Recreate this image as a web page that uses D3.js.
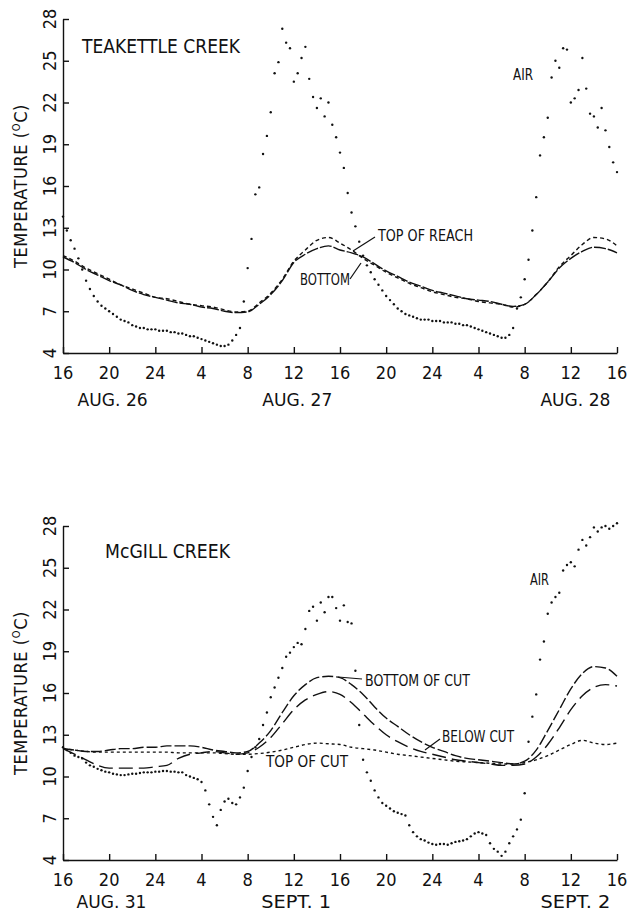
<!DOCTYPE html>
<html><head><meta charset="utf-8">
<script src="https://cdn.jsdelivr.net/npm/d3@7"></script>
<style>
body{margin:0;background:#fff}
text{font-family:"Liberation Sans Narrow","DejaVu Sans Condensed","Arial Narrow",sans-serif;fill:#111}
</style>
</head><body>
<svg id="c" width="630" height="915"></svg>
<script>
// ---------- DATA ----------
const hourTicks = [0,4,8,12,16,20,24,28,32,36,40,44,48];
const hourLabels = ["16","20","24","4","8","12","16","20","24","4","8","12","16"];
const tempTicks = [4,7,10,13,16,19,22,25,28];
const teakettleDates = [["AUG. 26",4.3],["AUG. 27",20.3],["AUG. 28",44.4]];
const mcgillDates = [["AUG. 31",4.2],["SEPT. 1",20.2],["SEPT. 2",44.4]];

// air temperature, every 20 minutes from 16:00 (145 values)
const teakettleAir = [
13.8,12.8,12.1,11.5,10.8,10.0,9.2,8.6,8.1,7.7,
7.4,7.2,7.0,6.8,6.6,6.4,6.3,6.2,6.0,5.9,
5.8,5.8,5.7,5.7,5.7,5.6,5.6,5.6,5.5,5.5,
5.4,5.4,5.3,5.2,5.2,5.1,5.0,4.9,4.8,4.7,
4.6,4.5,4.5,4.6,4.9,5.3,5.8,7.7,10.1,12.2,
15.4,15.9,18.3,19.6,21.3,24.1,24.9,27.3,26.3,25.9,
23.5,24.1,25.2,26.0,23.7,22.4,21.6,22.3,21.0,22.0,
20.4,19.5,18.4,17.3,15.5,14.1,13.1,12.0,11.0,10.3,
9.8,9.3,8.9,8.5,8.1,7.8,7.5,7.2,7.0,6.8,
6.7,6.6,6.5,6.4,6.4,6.4,6.3,6.3,6.3,6.2,
6.2,6.2,6.1,6.1,6.0,6.0,5.9,5.8,5.7,5.6,
5.5,5.4,5.3,5.2,5.1,5.1,5.3,5.8,7.2,8.0,
9.3,10.7,12.8,15.2,18.2,19.5,20.9,23.8,25.0,24.5,
25.9,25.8,22.0,22.3,22.9,25.2,23.0,21.2,21.0,20.2,
21.6,20.0,18.8,17.7,17.0];
// water temperature, hourly from 16:00 (49 values)
const teakettleTopOfReach = [
11.0,10.6,10.1,9.7,9.3,8.9,8.6,8.3,8.0,7.9,
7.7,7.5,7.4,7.3,7.1,6.95,7.0,7.6,8.3,9.3,
10.6,11.4,12.1,12.3,11.9,11.4,10.8,10.3,9.8,9.4,
9.0,8.7,8.4,8.2,8.0,7.9,7.7,7.6,7.5,7.3,
7.5,8.2,9.1,10.2,11.0,11.8,12.3,12.2,11.7];
const teakettleBottom = [
10.9,10.5,10.0,9.6,9.2,8.9,8.5,8.2,8.0,7.8,
7.6,7.5,7.3,7.2,7.0,6.9,6.95,7.5,8.2,9.2,
10.5,11.1,11.5,11.7,11.4,11.2,10.9,10.4,9.9,9.5,
9.1,8.8,8.5,8.3,8.1,7.9,7.8,7.7,7.5,7.35,
7.5,8.2,9.1,10.1,10.8,11.3,11.6,11.5,11.2];

const mcgillAir = [
12.1,11.9,11.7,11.5,11.4,11.3,11.0,10.8,10.7,10.55,
10.45,10.35,10.3,10.2,10.15,10.1,10.1,10.15,10.2,10.2,
10.25,10.3,10.3,10.3,10.35,10.35,10.4,10.4,10.35,10.35,
10.3,10.3,10.1,10.0,9.9,9.8,9.6,9.0,8.0,7.1,
6.5,7.6,8.2,8.4,8.1,8.0,8.5,9.2,10.4,11.4,
12.1,12.7,13.7,14.6,15.7,16.4,17.1,17.8,18.6,18.9,
19.3,19.6,19.5,20.6,21.9,22.2,21.2,22.5,21.8,22.9,
22.9,22.1,21.2,22.3,21.1,21.0,17.6,13.7,11.2,10.3,
9.7,9.0,8.5,8.1,7.9,7.7,7.5,7.4,7.3,7.2,
6.5,6.0,5.7,5.5,5.4,5.25,5.15,5.1,5.15,5.15,
5.1,5.2,5.3,5.35,5.4,5.5,5.7,5.9,6.0,5.9,
5.8,5.2,4.8,4.6,4.3,4.6,5.2,5.7,6.2,6.9,
8.8,12.5,14.3,15.9,18.4,19.7,21.7,22.5,22.9,23.2,
24.8,25.2,25.4,25.1,26.3,27.0,26.6,27.2,27.9,27.6,
27.9,28.0,27.8,28.0,28.2];
const mcgillBottomOfCut = [
12.0,11.9,11.8,11.8,11.9,12.0,12.0,12.1,12.1,12.2,
12.2,12.2,12.1,11.9,11.8,11.7,11.8,12.4,13.3,14.6,
15.8,16.6,17.1,17.2,17.1,16.6,15.9,15.0,14.2,13.6,
13.0,12.5,12.1,11.8,11.5,11.3,11.2,11.1,11.0,10.9,
11.1,11.9,13.3,14.8,16.3,17.4,17.9,17.8,17.2];
const mcgillBelowCut = [
12.0,11.6,11.2,10.8,10.6,10.6,10.6,10.6,10.7,10.8,
11.3,11.6,11.7,11.8,11.7,11.6,11.7,12.1,12.8,13.8,
14.8,15.5,15.9,16.1,15.9,15.3,14.5,13.7,13.0,12.5,
12.1,11.8,11.6,11.4,11.2,11.1,11.0,10.9,10.8,10.8,
10.9,11.4,12.3,13.5,14.8,15.8,16.4,16.6,16.5];
const mcgillTopOfCut = [
12.0,11.9,11.8,11.75,11.75,11.75,11.75,11.75,11.75,11.75,
11.7,11.7,11.7,11.7,11.65,11.6,11.6,11.65,11.75,11.9,
12.1,12.3,12.4,12.35,12.3,12.1,12.0,11.9,11.75,11.6,
11.5,11.4,11.3,11.2,11.1,11.05,11.0,10.95,10.9,10.9,
11.0,11.2,11.5,11.9,12.3,12.6,12.4,12.3,12.4];

// ---------- DRAWING ----------
const svg = d3.select("#c");
svg.append("rect").attr("width",630).attr("height",915).attr("fill","#fff");
const x = d3.scaleLinear().domain([0,48]).range([63,617]);
const INK = "#111";

function fitText(sel, w){
  sel.attr("textLength",w).attr("lengthAdjust","spacingAndGlyphs");
  return sel;
}

function panel(cfg){
  const y = d3.scaleLinear().domain([4,28]).range([cfg.yBottom, cfg.yTop]);
  const g = svg.append("g");

  const ax = g.append("g").attr("transform",`translate(0,${cfg.yBottom})`)
    .call(d3.axisBottom(x).tickValues(hourTicks).tickSize(-6).tickSizeOuter(0).tickFormat(""));
  const ay = g.append("g").attr("transform",`translate(${x(0)},0)`)
    .call(d3.axisLeft(y).tickValues(tempTicks).tickSize(-6).tickSizeOuter(0).tickFormat(""));
  [ax,ay].forEach(a=>{a.selectAll("path,line").attr("stroke",INK).attr("stroke-width",1.4);});

  g.selectAll(".xl").data(hourTicks).join("text")
    .attr("x",(d)=>x(d)).attr("y",cfg.yBottom+26)
    .attr("text-anchor","middle").attr("font-size",18)
    .text((d,i)=>hourLabels[i]);
  g.selectAll(".yl").data(tempTicks).join("text")
    .attr("transform",d=>`translate(56,${y(d)}) rotate(-90)`)
    .attr("text-anchor","middle").attr("font-size",18)
    .text(d=>d);
  g.selectAll(".dl").data(cfg.dates).join("text")
    .attr("x",d=>x(d[1])).attr("y",cfg.yBottom+cfg.dateOff)
    .attr("text-anchor","middle").attr("font-size",18)
    .attr("textLength",70).attr("lengthAdjust","spacingAndGlyphs")
    .text(d=>d[0]);

  const yt = g.append("text")
    .attr("transform",`translate(27,${y(16)}) rotate(-90)`)
    .attr("text-anchor","middle").attr("font-size",18).attr("letter-spacing",0.6);
  yt.append("tspan").text("TEMPERATURE (");
  yt.append("tspan").attr("font-size",11).attr("dy",-7).text("O");
  yt.append("tspan").attr("dy",7).text("C)");

  fitText(g.append("text").attr("x",cfg.title[1]).attr("y",cfg.title[2])
    .attr("font-size",20).text(cfg.title[0]), cfg.title[3]);

  const line = d3.line().x((d,i)=>x(i)).y(d=>y(d)).curve(d3.curveMonotoneX);
  cfg.lines.forEach(L=>{
    g.append("path").datum(L.data).attr("d",line).attr("fill","none")
      .attr("stroke",INK).attr("stroke-width",1.4).attr("stroke-dasharray",L.dash);
  });
  g.selectAll(".air").data(cfg.air).join("circle")
    .attr("cx",(d,i)=>x(i/3)).attr("cy",d=>y(d)).attr("r",1.2).attr("fill",INK);

  cfg.labels.forEach(t=>{
    fitText(g.append("text").attr("x",t[1]).attr("y",t[2]).attr("font-size",t[3])
      .attr("text-anchor",t[5]||"start").text(t[0]), t[4]);
  });
  cfg.leaders.forEach(l=>{
    g.append("line").attr("x1",l[0]).attr("y1",l[1]).attr("x2",l[2]).attr("y2",l[3])
      .attr("stroke",INK).attr("stroke-width",1.2);
  });
}

panel({
  yTop:19, yBottom:353, dates:teakettleDates, dateOff:53,
  title:["TEAKETTLE CREEK",82,53,158],
  air:teakettleAir,
  lines:[{data:teakettleTopOfReach,dash:"4,3"},{data:teakettleBottom,dash:"12,2"}],
  labels:[["AIR",513,80,15,20],["TOP OF REACH",378,241,15,95],["BOTTOM",350,285,15,50,"end"]],
  leaders:[[375,237,353,251],[350,279,361,263]]
});
panel({
  yTop:526, yBottom:860, dates:mcgillDates, dateOff:48,
  title:["McGILL CREEK",105,558,125],
  air:mcgillAir,
  lines:[{data:mcgillTopOfCut,dash:"3,3"},{data:mcgillBottomOfCut,dash:"11,3"},{data:mcgillBelowCut,dash:"14,6"}],
  labels:[["AIR",530,585,15,19],["BOTTOM OF CUT",365,686,15,105],["BELOW CUT",442,742,15,72],["TOP OF CUT",266,767,15,82]],
  leaders:[[362,679,338,677],[440,739,425,750]]
});
</script>
</body></html>
